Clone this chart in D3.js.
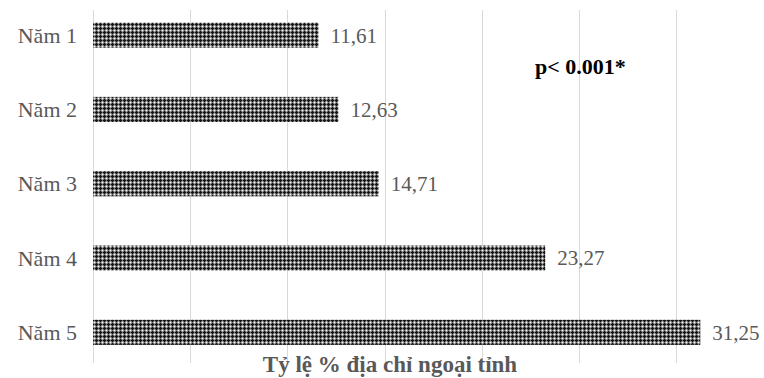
<!DOCTYPE html>
<html>
<head>
<meta charset="utf-8">
<script src="https://cdn.jsdelivr.net/npm/d3@7"></script>
<style>
  html, body { margin: 0; padding: 0; background: #fff; }
  svg { display: block; }
</style>
</head>
<body>
<div id="chart"></div>
<script>
// Share of students with an out-of-province address, by study year
const categories = ["Năm 1", "Năm 2", "Năm 3", "Năm 4", "Năm 5"];
const values = [11.61, 12.63, 14.71, 23.27, 31.25];
const valueLabels = ["11,61", "12,63", "14,71", "23,27", "31,25"];
const gridTicks = [0, 5, 10, 15, 20, 25, 30];
const axisTitle = "Tỷ lệ % địa chỉ ngoại tỉnh";
const note = "p< 0.001*";

const W = 764, H = 378;
const serif = "'Liberation Serif', 'Times New Roman', serif";
const svg = d3.select("#chart").append("svg")
  .attr("width", W).attr("height", H);

// checkered fill for the bars
const defs = svg.append("defs");
const pat = defs.append("pattern")
  .attr("id", "checker")
  .attr("patternUnits", "userSpaceOnUse")
  .attr("width", 4).attr("height", 4);
pat.append("rect").attr("width", 4).attr("height", 4).attr("fill", "#707070");
[[0,0],[1,0],[3,0],[0,1],[0,3]].forEach(([px, py]) => {
  pat.append("rect").attr("x", px).attr("y", py).attr("width", 1).attr("height", 1).attr("fill", "#141414");
});
[[2,2]].forEach(([px, py]) => {
  pat.append("rect").attr("x", px).attr("y", py).attr("width", 1).attr("height", 1).attr("fill", "#ffffff");
});
[[2,1],[1,2],[3,2],[2,3]].forEach(([px, py]) => {
  pat.append("rect").attr("x", px).attr("y", py).attr("width", 1).attr("height", 1).attr("fill", "#a4a4a4");
});

const x = d3.scaleLinear().domain([0, 30]).range([93, 676]);
const y = d3.scaleBand().domain(categories)
  .range([-2, 369.5])
  .paddingInner(0.662).paddingOuter(0.331);

// vertical gridlines
svg.append("g")
  .selectAll("line")
  .data(gridTicks)
  .join("line")
  .attr("x1", d => Math.round(x(d)) + 0.5)
  .attr("x2", d => Math.round(x(d)) + 0.5)
  .attr("y1", 10).attr("y2", 363)
  .attr("stroke", "#d9d9d9").attr("stroke-width", 1);

// bars
svg.append("g")
  .selectAll("rect")
  .data(values)
  .join("rect")
  .attr("x", x(0))
  .attr("y", (d, i) => y(categories[i]))
  .attr("width", d => x(d) - x(0))
  .attr("height", y.bandwidth())
  .attr("fill", "url(#checker)");

// category labels
svg.append("g")
  .selectAll("text")
  .data(categories)
  .join("text")
  .attr("x", 77)
  .attr("y", d => y(d) + y.bandwidth() / 2)
  .attr("dy", "0.35em")
  .attr("text-anchor", "end")
  .attr("font-family", serif)
  .attr("font-size", 22)
  .attr("fill", "#595959")
  .text(d => d);

// value labels
svg.append("g")
  .selectAll("text")
  .data(values)
  .join("text")
  .attr("x", d => x(d) + 12)
  .attr("y", (d, i) => y(categories[i]) + y.bandwidth() / 2)
  .attr("dy", "0.35em")
  .attr("font-family", serif)
  .attr("font-size", 21)
  .attr("fill", "#595959")
  .text((d, i) => valueLabels[i]);

// significance note
svg.append("text")
  .attr("x", 535).attr("y", 74)
  .attr("font-family", serif)
  .attr("font-size", 22)
  .attr("font-weight", "bold")
  .attr("fill", "#000")
  .text(note);

// axis title
svg.append("text")
  .attr("x", 390).attr("y", 372)
  .attr("text-anchor", "middle")
  .attr("font-family", serif)
  .attr("font-size", 23)
  .attr("font-weight", "bold")
  .attr("fill", "#595959")
  .text(axisTitle);
</script>
</body>
</html>
